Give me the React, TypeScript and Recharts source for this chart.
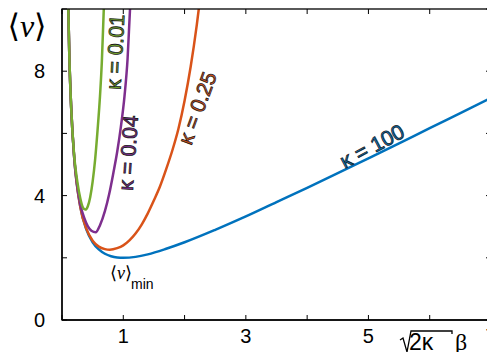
import React from "react";
import { LineChart, Line, XAxis, YAxis } from "recharts";

// kappa = 100
const blueX = [0.09, 0.12, 0.15, 0.2, 0.3, 0.4, 0.5, 0.6, 0.7, 0.8, 0.9, 1.0, 1.2, 1.4, 1.7, 2.0, 2.5, 3.0, 3.5, 4.0, 4.5, 5.0, 5.5, 6.0, 6.5, 7.0];
const blueY = [11.2, 8.45, 6.82, 5.2, 3.63, 2.9, 2.5, 2.27, 2.13, 2.05, 2.01, 2.0, 2.03, 2.11, 2.29, 2.5, 2.9, 3.33, 3.79, 4.25, 4.72, 5.2, 5.68, 6.17, 6.65, 7.14];

// kappa = 0.25
const orangeX = [0.09, 0.12, 0.15, 0.2, 0.3, 0.4, 0.5, 0.6, 0.7, 0.78, 0.9, 1.0, 1.1, 1.2, 1.3, 1.4, 1.5, 1.6, 1.7, 1.8, 1.9, 2.0, 2.1, 2.2, 2.27];
const orangeY = [11.2, 8.45, 6.82, 5.2, 3.62, 2.92, 2.55, 2.36, 2.28, 2.26, 2.31, 2.4, 2.56, 2.78, 3.07, 3.43, 3.85, 4.3, 4.85, 5.45, 6.15, 7.05, 8.15, 9.5, 10.6];

// kappa = 0.04
const purpleX = [0.09, 0.12, 0.15, 0.2, 0.25, 0.3, 0.36, 0.42, 0.48, 0.55, 0.62, 0.7, 0.77, 0.84, 0.9, 0.96, 1.02, 1.07, 1.11, 1.14];
const purpleY = [11.2, 8.45, 6.82, 5.2, 4.3, 3.7, 3.3, 3.02, 2.87, 2.82, 3.05, 3.5, 4.05, 4.75, 5.4, 6.2, 7.2, 8.4, 10.0, 11.0];

// kappa = 0.01
const greenX = [0.09, 0.12, 0.15, 0.2, 0.25, 0.3, 0.34, 0.38, 0.42, 0.46, 0.5, 0.54, 0.58, 0.62, 0.65, 0.68, 0.7];
const greenY = [11.2, 8.45, 6.82, 5.25, 4.45, 3.9, 3.62, 3.55, 3.65, 3.95, 4.45, 5.15, 6.1, 7.2, 8.3, 9.9, 10.9];

const ticksX = [0, 1, 2, 3, 4, 5, 6, 7];
const labeledX = [1, 3, 5, 7];
const ticksY = [0, 2, 4, 6, 8, 10];
const labeledY = [0, 4, 8];

const toPoints = (xs: number[], ys: number[]) => xs.map((x, i) => ({ x, y: ys[i] }));

const font = "'Liberation Sans', Arial, sans-serif";
const serif = "'Liberation Serif', 'DejaVu Serif', serif";

// plot box inside the 487x344 chart (left axis 54 wide, top 1, right 4, bottom 32)
const W = 487;
const H = 344;
const box = { left: 54, right: W - 4, top: 1, bottom: H - 32 };
const px = (v: number) => box.left + (v / 7) * (box.right - box.left);
const py = (v: number) => box.bottom - (v / 10) * (box.bottom - box.top);

const BottomTick = (p: any) => (
  <g>
    <line x1={p.x} y1={p.y} x2={p.x} y2={p.y - 5} stroke="#000" />
    {labeledX.includes(p.payload.value) && (
      <text x={p.x} y={p.y + 23} textAnchor="middle" fontSize={20} fontFamily={font} fill="#000">
        {p.payload.value}
      </text>
    )}
  </g>
);
const LeftTick = (p: any) => (
  <g>
    <line x1={p.x} y1={p.y} x2={p.x + 5} y2={p.y} stroke="#000" />
    {labeledY.includes(p.payload.value) && (
      <text x={p.x - 17} y={p.y + 7} textAnchor="end" fontSize={20} fontFamily={font} fill="#000">
        {p.payload.value}
      </text>
    )}
  </g>
);

const curveLabel = (x: number, y: number, rot: number, color: string, text: string) => (
  <text
    x={x}
    y={y}
    transform={`rotate(${rot} ${x} ${y})`}
    textAnchor="middle"
    dominantBaseline="central"
    fontSize={21}
    fontFamily={font}
    fill={color}
    stroke="#1a1a1a"
    strokeWidth={0.8}
  >
    {text}
  </text>
);

export default function App() {
  const axisLine = { stroke: "#000", strokeWidth: 1.3 };
  const lineProps = { dataKey: "y", type: "monotone" as const, strokeWidth: 2.5, dot: false, isAnimationActive: false };
  return (
    <div style={{ position: "relative", width: W, height: H }}>
      <LineChart width={W} height={H} margin={{ top: 1, right: 4, bottom: 0, left: 0 }}>
        <XAxis dataKey="x" type="number" domain={[0, 7]} ticks={ticksX} interval={0} allowDataOverflow
          height={32} tickSize={0} tickMargin={0} axisLine={axisLine} tick={BottomTick} />
        <YAxis type="number" domain={[0, 10]} ticks={ticksY} interval={0} allowDataOverflow
          width={54} tickSize={0} tickMargin={0} axisLine={axisLine} tick={LeftTick} />
        <Line {...lineProps} data={toPoints(blueX, blueY)} stroke="#0072BD" />
        <Line {...lineProps} data={toPoints(orangeX, orangeY)} stroke="#D95319" />
        <Line {...lineProps} data={toPoints(purpleX, purpleY)} stroke="#7E2F8E" />
        <Line {...lineProps} data={toPoints(greenX, greenY)} stroke="#77AC30" />
      </LineChart>
      <svg width={W} height={352} style={{ position: "absolute", left: 0, top: 0, zIndex: 5, pointerEvents: "none" }}>
        {/* frame box with inward ticks on top and right */}
        <rect x={box.left} y={box.top} width={box.right - box.left} height={box.bottom - box.top}
          fill="none" stroke="#000" strokeWidth={1.3} />
        {ticksX.map((t) => (
          <line key={"tx" + t} x1={px(t)} y1={box.top} x2={px(t)} y2={box.top + 5} stroke="#000" />
        ))}
        {ticksY.map((t) => (
          <line key={"ty" + t} x1={box.right} y1={py(t)} x2={box.right - 5} y2={py(t)} stroke="#000" />
        ))}
        <text x={19} y={29} textAnchor="middle" fontSize={32} fontFamily={serif} fill="#000">
          ⟨<tspan fontStyle="italic">v</tspan>⟩
        </text>
        <text x={102} y={271} fontSize={18} fontFamily={serif} fill="#000">
          ⟨<tspan fontStyle="italic">v</tspan>⟩
        </text>
        <text x={123} y={281} fontSize={14} fontFamily={font} fill="#000">min</text>
        <path d="M392 332 L395 330 L399 344 L403 323 L444 323 L444 326" fill="none" stroke="#000" strokeWidth={1.3} />
        <text x={401} y={342} fontSize={23} fontFamily={font} fill="#000">2κ</text>
        <text x={447} y={342} fontSize={24} fontFamily={serif} fill="#000">β</text>
        {curveLabel(107, 44, -87, "#77AC30", "κ = 0.01")}
        {curveLabel(120, 145, -86, "#7E2F8E", "κ = 0.04")}
        {curveLabel(189, 100, -70, "#D95319", "κ = 0.25")}
        {curveLabel(364, 138, -28, "#0072BD", "κ = 100")}
      </svg>
    </div>
  );
}
